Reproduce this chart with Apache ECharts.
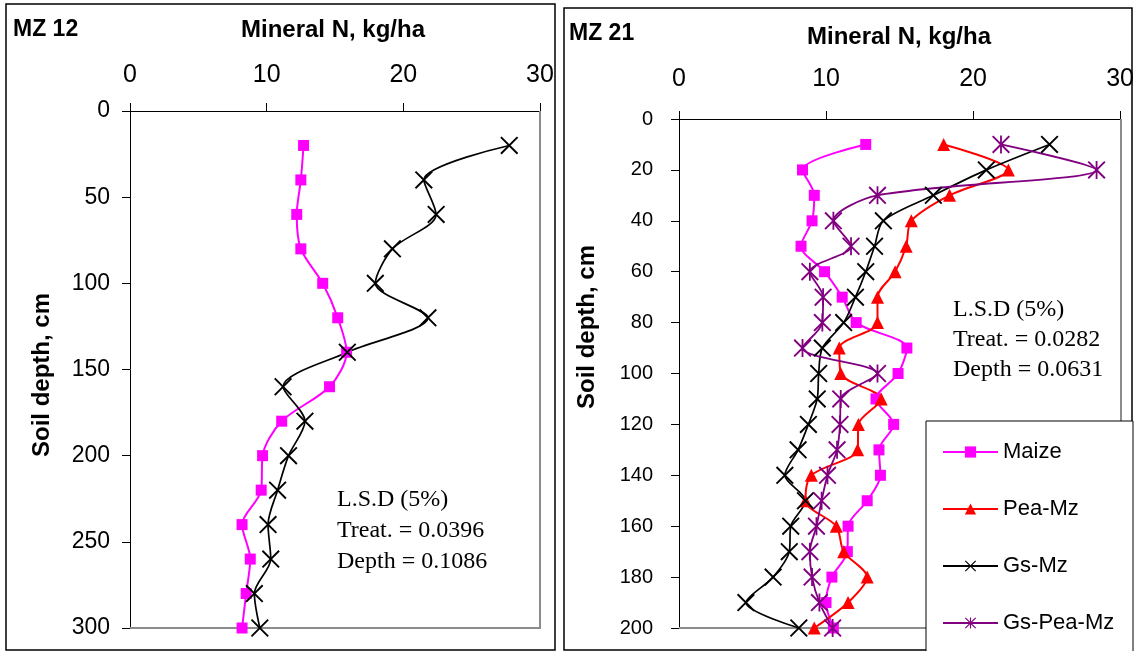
<!DOCTYPE html>
<html>
<head>
<meta charset="utf-8">
<script src="https://cdn.jsdelivr.net/npm/echarts@6/dist/echarts.min.js"></script>
<style>
  html, body { margin: 0; padding: 0; background: #fff; }
  #chart { width: 1137px; height: 651px; }
</style>
</head>
<body>
<div id="chart"></div>
<script>
// MZ 12 (left panel)
let depth12 = [20, 40, 60, 80, 100, 120, 140, 160, 180, 200, 220, 240, 260, 280, 300];
let maize12 = [12.7, 12.5, 12.2, 12.5, 14.1, 15.2, 15.85, 14.6, 11.1, 9.7, 9.6, 8.2, 8.8, 8.5, 8.2];
let gsMz12 = [27.75, 21.5, 22.4, 19.2, 17.95, 21.8, 15.9, 11.2, 12.8, 11.6, 10.8, 10.1, 10.3, 9.1, 9.5];

// MZ 21 (right panel)
let depth21 = [10, 20, 30, 40, 50, 60, 70, 80, 90, 100, 110, 120, 130, 140, 150, 160, 170, 180, 190, 200];
let maize21 = [12.7, 8.4, 9.2, 9.05, 8.3, 9.9, 11.1, 12.05, 15.5, 14.9, 13.4, 14.6, 13.6, 13.7, 12.8, 11.5, 11.45, 10.4, 10.0, 10.5];
let peaMz21 = [18.0, 22.4, 18.4, 15.8, 15.45, 14.7, 13.5, 13.5, 10.9, 11.0, 13.75, 12.2, 12.15, 9.0, 8.6, 10.7, 11.2, 12.8, 11.5, 9.2];
let gsMz21 = [25.2, 20.9, 17.3, 13.9, 13.3, 12.7, 12.0, 11.2, 9.75, 9.5, 9.4, 8.8, 8.1, 7.2, 8.6, 7.6, 7.5, 6.4, 4.55, 8.15];
let gsPeaMz21 = [21.9, 28.4, 13.5, 10.5, 11.7, 8.9, 9.8, 9.75, 8.4, 13.5, 11.0, 10.95, 10.75, 10.1, 9.7, 9.35, 8.9, 9.05, 9.55, 10.45];

let names = ['Maize', 'Pea-Mz', 'Gs-Mz', 'Gs-Pea-Mz'];

let xMark = 'path://M0,1.5L1.5,0L20,18.5L18.5,20ZM18.5,0L20,1.5L1.5,20L0,18.5Z';
let starMark = 'path://M0,1.5L1.5,0L20,18.5L18.5,20ZM18.5,0L20,1.5L1.5,20L0,18.5ZM9,0L11,0L11,20L9,20Z';

let pairs = (xs, ys) => ys.map((d, i) => [xs[i], d]);

let styles = {
    'Maize':     { color: '#ff00ff', symbol: 'rect', size: 11, width: 2 },
    'Pea-Mz':    { color: '#ff0000', symbol: 'triangle', size: 13, width: 2 },
    'Gs-Mz':     { color: '#000000', symbol: xMark, size: 18, width: 1.7 },
    'Gs-Pea-Mz': { color: '#800080', symbol: starMark, size: 18, width: 1.8 }
};

let line = (name, idx, data) => ({
    name: name,
    type: 'line',
    xAxisIndex: idx,
    yAxisIndex: idx,
    data: data,
    smooth: 0.3,
    clip: false,
    symbol: styles[name].symbol,
    symbolSize: styles[name].size,
    itemStyle: { color: styles[name].color, borderWidth: 0 },
    lineStyle: { color: styles[name].color, width: styles[name].width }
});

let xAxis = (idx, margin) => ({
    gridIndex: idx,
    type: 'value',
    position: 'top',
    min: 0, max: 30, interval: 10,
    axisLine: { show: true, onZero: false, lineStyle: { color: '#000', width: 1 } },
    axisTick: { show: true, length: 8, lineStyle: { color: '#000' } },
    splitLine: { show: false },
    axisLabel: { color: '#000', fontSize: 25, fontFamily: 'Arial', margin: margin }
});

let yAxis = (idx, max, interval, size, margin) => ({
    gridIndex: idx,
    type: 'value',
    inverse: true,
    min: 0, max: max, interval: interval,
    axisLine: { show: true, onZero: false, lineStyle: { color: '#000', width: 1 } },
    axisTick: { show: true, length: 8, lineStyle: { color: '#000' } },
    splitLine: { show: false },
    axisLabel: { color: '#000', fontSize: size, fontFamily: 'Arial', margin: margin }
});

let txt = (text, x, y, font, align, rot) => ({
    type: 'text',
    x: x, y: y,
    rotation: rot || 0,
    z: 10,
    style: {
        text: text, x: 0, y: 0, font: font, fill: '#000',
        align: align, verticalAlign: 'middle',
        textAlign: align, textVerticalAlign: 'middle'
    }
});

let serif = '24px "Liberation Serif", "Times New Roman", serif';

let option = {
    animation: false,
    backgroundColor: '#fff',
    grid: [
        { left: 130, top: 111, width: 410, height: 517 },
        { left: 679, top: 119, width: 442, height: 509 }
    ],
    xAxis: [xAxis(0, 23), xAxis(1, 27)],
    yAxis: [yAxis(0, 300, 50, 23, 20), yAxis(1, 200, 20, 20, 26)],
    legend: {
        orient: 'vertical',
        left: 942, top: 441,
        padding: 0,
        itemWidth: 55, itemHeight: 14, itemGap: 35,
        z: 12,
        textStyle: { color: '#000', fontSize: 22, lineHeight: 22, fontFamily: 'Arial' },
        data: names
    },
    graphic: [
        { type: 'rect', z: 0, shape: { x: 6, y: 4, width: 549, height: 646 },
          style: { fill: 'none', stroke: '#000', lineWidth: 1.5 } },
        { type: 'rect', z: 0, shape: { x: 564, y: 8, width: 568, height: 642 },
          style: { fill: 'none', stroke: '#000', lineWidth: 1.5 } },
        { type: 'polyline', z: 1, shape: { points: [[540, 111], [540, 628], [130, 628]] },
          style: { fill: 'none', stroke: '#8c8c8c', lineWidth: 2 } },
        { type: 'polyline', z: 1, shape: { points: [[1121, 119], [1121, 628], [679, 628]] },
          style: { fill: 'none', stroke: '#8c8c8c', lineWidth: 2 } },
        { type: 'rect', z: 11, shape: { x: 926, y: 421, width: 207, height: 232 },
          style: { fill: '#fff', stroke: '#000', lineWidth: 1 } },

        txt('MZ 12', 13, 30, 'bold 23px Arial', 'left'),
        txt('Mineral N, kg/ha', 333, 30, 'bold 24px Arial', 'center'),
        txt('MZ 21', 569, 34, 'bold 23px Arial', 'left'),
        txt('Mineral N, kg/ha', 899, 37, 'bold 24px Arial', 'center'),
        txt('Soil depth, cm', 42, 375, 'bold 24px Arial', 'center', Math.PI / 2),
        txt('Soil depth, cm', 587, 327, 'bold 24px Arial', 'center', Math.PI / 2),

        txt('L.S.D (5%)', 337, 500, serif, 'left'),
        txt('Treat. = 0.0396', 337, 531, serif, 'left'),
        txt('Depth = 0.1086', 337, 562, serif, 'left'),
        txt('L.S.D (5%)', 953, 310, serif, 'left'),
        txt('Treat. = 0.0282', 953, 340, serif, 'left'),
        txt('Depth = 0.0631', 953, 370, serif, 'left')
    ],
    series: [
        line('Maize', 0, pairs(maize12, depth12)),
        line('Gs-Mz', 0, pairs(gsMz12, depth12)),
        line('Maize', 1, pairs(maize21, depth21)),
        line('Pea-Mz', 1, pairs(peaMz21, depth21)),
        line('Gs-Mz', 1, pairs(gsMz21, depth21)),
        line('Gs-Pea-Mz', 1, pairs(gsPeaMz21, depth21))
    ]
};

let myChart = echarts.init(document.getElementById('chart'));
myChart.setOption(option);
</script>
</body>
</html>
